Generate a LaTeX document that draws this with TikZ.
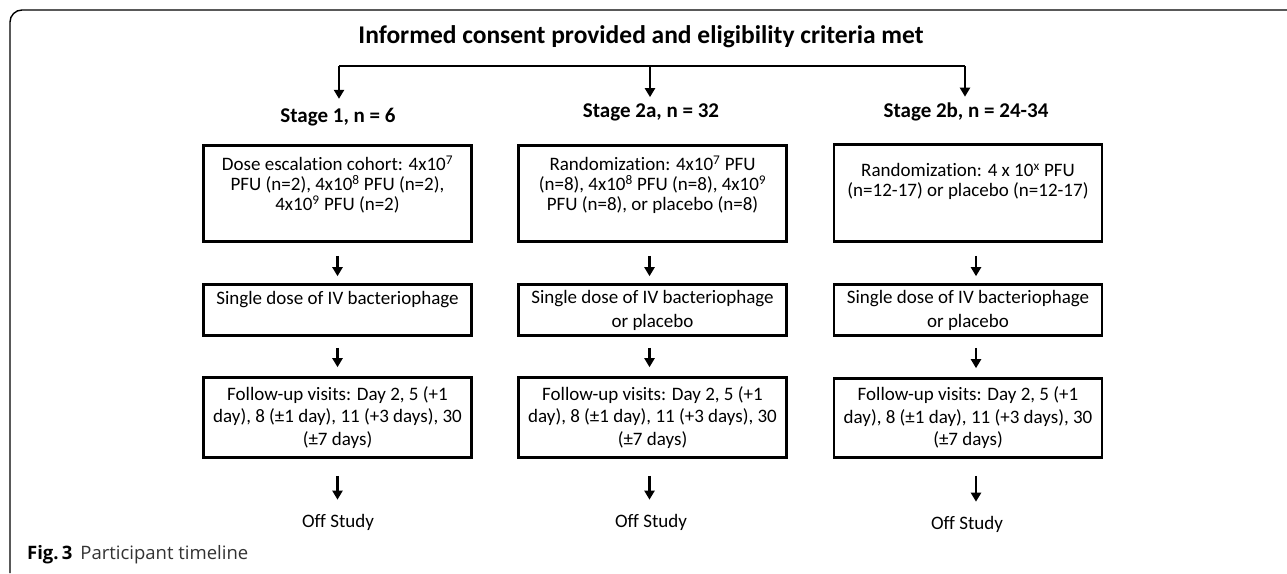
\documentclass[tikz,border=0pt]{standalone}
\usepackage{fontspec}
\setmainfont{Carlito}[Ligatures=CommonOff]
\newfontfamily\capfont{Open Sans}[Ligatures=CommonOff]
\usetikzlibrary{arrows.meta,positioning}

\tikzset{
  stepbox/.style={draw, line width=2.6pt, minimum width=268pt, align=center,
    inner sep=2pt, font=\fontsize{19}{20}\selectfont},
  stagelbl/.style={inner sep=0pt, font=\fontsize{21}{24}\selectfont\bfseries},
  endlbl/.style={inner sep=0pt, font=\fontsize{19}{22}\selectfont},
  arr/.style={line width=2.2pt, -{Triangle[length=9pt,width=10pt]}},
}

\begin{document}
\begin{tikzpicture}[x=1pt,y=-1pt]
        \useasboundingbox (0,0) rectangle (1287,573);

        % frame of the figure
        \draw[line width=1.4pt, rounded corners=12pt] (10,573) -- (10,10) -- (1287,10);

        \node[inner sep=0pt, font=\fontsize{25.5}{30}\selectfont\bfseries] (consent) at (641,37)
            {Informed consent provided and eligibility criteria met};

        \coordinate (brA) at (339,66);
        \coordinate (brB) at (650,66);
        \coordinate (brC) at (965,66);

        \node[stagelbl] (stage1) at (338,117) {Stage 1, n = 6};
        \node[stagelbl] (stage2a) at (651,112) {Stage 2a, n = 32};
        \node[stagelbl] (stage2b) at (966,112) {Stage 2b, n = 24-34};

        \draw[line width=2.2pt] (brA) -- (brC);
        \draw[arr, shorten >=9pt] (brA) -- (brA |- stage1.north);
        \draw[arr, shorten >=6pt] (brB) -- (brB |- stage2a.north);
        \draw[arr, shorten >=6pt] (brC) -- (brC |- stage2b.north);

        % stage 1
        \node[stepbox, minimum height=96pt] (dose1) at (337.5,193.5)
            {Dose escalation cohort: 4x10\textsuperscript{7}\\
             PFU (n=2), 4x10\textsuperscript{8} PFU (n=2),\\
             4x10\textsuperscript{9} PFU (n=2)\\ \mbox{}};
        \node[stepbox, minimum height=51pt, font=\fontsize{19}{24}\selectfont] (single1) at (337.5,310)
            {Single dose of IV bacteriophage\\ \mbox{}};
        \node[stepbox, minimum height=80pt, font=\fontsize{19}{22.5}\selectfont] (follow1) at (337.5,417.5)
            {Follow-up visits: Day 2, 5 (+1\\
             day), 8 (±1 day), 11 (+3 days), 30\\
             (±7 days)};
        \node[endlbl] (off1) at (338,522) {Off Study};

        % stage 2a
        \node[stepbox, minimum height=96pt] (rand2a) at (652.5,193.5)
            {Randomization: 4x10\textsuperscript{7} PFU\\
             (n=8), 4x10\textsuperscript{8} PFU (n=8), 4x10\textsuperscript{9}\\
             PFU (n=8), or placebo (n=8)\\ \mbox{}};
        \node[stepbox, minimum height=51pt, font=\fontsize{19}{24}\selectfont] (single2a) at (652.5,310)
            {Single dose of IV bacteriophage\\ or placebo};
        \node[stepbox, minimum height=80pt, font=\fontsize{19}{22.5}\selectfont] (follow2a) at (652.5,417.5)
            {Follow-up visits: Day 2, 5 (+1\\
             day), 8 (±1 day), 11 (+3 days), 30\\
             (±7 days)};
        \node[endlbl] (off2a) at (651,522) {Off Study};

        % stage 2b
        \node[stepbox, minimum height=97pt] (rand2b) at (968,193)
            {Randomization: 4 x 10\textsuperscript{x} PFU\\
             (n=12-17) or placebo (n=12-17)\\[6pt] \mbox{}};
        \node[stepbox, minimum height=51pt, font=\fontsize{19}{24}\selectfont] (single2b) at (968,310)
            {Single dose of IV bacteriophage\\ or placebo};
        \node[stepbox, minimum height=79pt, font=\fontsize{19}{22.5}\selectfont] (follow2b) at (968,418)
            {Follow-up visits: Day 2, 5 (+1\\
             day), 8 (±1 day), 11 (+3 days), 30\\
             (±7 days)};
        \node[endlbl] (off2b) at (967,524) {Off Study};

        \draw[arr, shorten <=13pt, shorten >=7pt] (dose1) -- (single1);
        \draw[arr, shorten <=11pt, shorten >=9pt] (single1) -- (follow1);
        \draw[arr, shorten <=17pt, shorten >=14pt] (follow1) -- (off1.north -| follow1);

        \draw[arr, shorten <=13pt, shorten >=7pt] ([xshift=-3pt]rand2a.south) -- ([xshift=-3pt]single2a.north);
        \draw[arr, shorten <=11pt, shorten >=9pt] ([xshift=-3pt]single2a.south) -- ([xshift=-3pt]follow2a.north);
        \draw[arr, shorten <=17pt, shorten >=14pt] ([xshift=-3pt]follow2a.south) -- ([xshift=-3pt]follow2a.south |- off2a.north);

        \draw[arr, shorten <=13pt, shorten >=7pt] ([xshift=8pt]rand2b.south) -- ([xshift=8pt]single2b.north);
        \draw[arr, shorten <=11pt, shorten >=9pt] ([xshift=8pt]single2b.south) -- ([xshift=8pt]follow2b.north);
        \draw[arr, shorten <=17pt, shorten >=14pt] ([xshift=8pt]follow2b.south) -- ([xshift=8pt]follow2b.south |- off2b.north);

        \node[anchor=west, inner sep=0pt, font=\capfont\fontsize{18.5}{22}\selectfont] (caption) at (27,555)
            {\textbf{Fig.\,3}\hspace{8pt}{\color{black!80}Participant timeline}};
\end{tikzpicture}
\end{document}
